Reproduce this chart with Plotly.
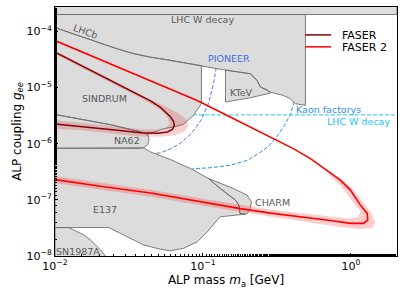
import numpy as np
import plotly.graph_objects as go

# ---------------- axis ranges (GeV, coupling) ----------------
x_range = [0.01, 2.05]
y_range = [1e-8, 2.72e-4]
x_ticks = [0.01, 0.1, 1.0]
x_tick_labels = ["10<sup>−2</sup>", "10<sup>−1</sup>", "10<sup>0</sup>"]
y_ticks = [1e-8, 1e-7, 1e-6, 1e-5, 1e-4]
y_tick_labels = ["10<sup>−8</sup>", "10<sup>−7</sup>", "10<sup>−6</sup>", "10<sup>−5</sup>", "10<sup>−4</sup>"]

# ---------------- excluded regions ----------------
lhcw_top_m = [0.01, 2.05, 2.05, 0.01]
lhcw_top_g = [2.0e-4, 2.0e-4, 1e-3, 1e-3]

lhcb_m = [0.01, 0.0156, 0.0263, 0.0339, 0.0442, 0.0573, 0.0705, 0.0962, 0.1375, 0.209,
          0.232, 0.245, 0.286, 0.350, 0.390, 0.422, 0.493, 0.493, 0.01]
lhcb_g = [1.17e-4, 7.85e-5, 4.89e-5, 4.03e-5, 3.47e-5, 3.12e-5, 2.82e-5, 2.47e-5, 2.07e-5, 1.76e-5,
          1.34e-5, 1.02e-5, 8.28e-6, 7.24e-6, 6.32e-6, 5.15e-6, 4.81e-6, 2.0e-4, 2.0e-4]

sindrum_m = [0.01, 0.0156, 0.0263, 0.0339, 0.0442, 0.0573, 0.0705, 0.0977, 0.0977, 0.0863,
             0.0738, 0.0631, 0.0541, 0.0463, 0.0422, 0.0378, 0.0237, 0.01]
sindrum_g = [1.17e-4, 7.85e-5, 4.89e-5, 4.03e-5, 3.47e-5, 3.12e-5, 2.82e-5, 2.45e-5, 5.22e-6, 3.19e-6,
             2.21e-6, 1.98e-6, 1.85e-6, 1.61e-6, 1.47e-6, 1.63e-6, 2.18e-6, 3.32e-6]

na62_m = [0.01, 0.0237, 0.0378, 0.0422, 0.0429, 0.0432, 0.0419, 0.0397, 0.0378, 0.01]
na62_g = [3.32e-6, 2.18e-6, 1.63e-6, 1.47e-6, 1.30e-6, 1.10e-6, 9.38e-7, 8.45e-7, 8.3e-7, 8.3e-7]

ktev_m = [0.142, 0.142, 0.209, 0.286, 0.270, 0.245, 0.232, 0.209, 0.142]
ktev_g = [2.05e-5, 5.51e-6, 6.59e-6, 7.96e-6, 9.2e-6, 1.02e-5, 1.34e-5, 1.76e-5, 2.05e-5]

e137_m = [0.01, 0.0378, 0.0397, 0.0442, 0.0603, 0.0824, 0.109, 0.131, 0.166, 0.175, 0.178, 0.194,
          0.166, 0.131, 0.125, 0.107, 0.0918, 0.0741, 0.0603, 0.0516, 0.0398, 0.0292, 0.0231, 0.01]
e137_g = [8.3e-7, 8.3e-7, 8.45e-7, 7.13e-7, 5.23e-7, 3.61e-7, 2.40e-7, 1.59e-7, 9.88e-8, 8.05e-8, 5.73e-8, 5.57e-8,
          5.35e-8, 4.99e-8, 4.36e-8, 2.70e-8, 1.80e-8, 1.37e-8, 1.24e-8, 1.32e-8, 1.57e-8, 2.36e-8, 3.21e-8, 3.21e-8]

charm_m = [0.109, 0.161, 0.199, 0.213, 0.209, 0.199, 0.194, 0.178, 0.175, 0.166, 0.131, 0.109]
charm_g = [2.40e-7, 1.59e-7, 1.21e-7, 9.2e-8, 7.03e-8, 5.73e-8, 5.57e-8, 5.73e-8, 8.05e-8, 9.88e-8, 1.59e-7, 2.40e-7]

sn_m = [0.01, 0.0124, 0.0157, 0.0174, 0.0203, 0.0219, 0.0225, 0.01]
sn_g = [3.21e-8, 3.21e-8, 2.36e-8, 1.92e-8, 1.28e-8, 1.0e-8, 5e-9, 5e-9]

# ---------------- future projections (dashed) ----------------
pioneer_m = [0.123, 0.118, 0.109, 0.0977, 0.0889, 0.0824, 0.0705, 0.0603, 0.0516, 0.0463]
pioneer_g = [2.27e-5, 1.18e-5, 5.22e-6, 2.71e-6, 1.88e-6, 1.47e-6, 1.02e-6, 8.1e-7, 6.88e-7, 6.62e-7]

kaon_m = [0.415, 0.390, 0.356, 0.314, 0.277, 0.245, 0.200, 0.153, 0.112, 0.0849]
kaon_g = [5.66e-6, 3.32e-6, 2.12e-6, 1.30e-6, 9.0e-7, 7.03e-7, 5.07e-7, 4.13e-7, 3.73e-7, 3.58e-7]

lhcw_m = [0.01, 2.05]
lhcw_g = [3.26e-6, 3.26e-6]

# ---------------- FASER sensitivity ----------------
faser_m = [0.01, 0.0203, 0.0378, 0.0442, 0.0516, 0.0566, 0.0603, 0.0632, 0.0641, 0.0622, 0.0575,
           0.0493, 0.0378, 0.0264, 0.0203, 0.0156, 0.01]
faser_g = [4.28e-5, 1.66e-5, 7.18e-6, 5.78e-6, 4.44e-6, 3.61e-6, 3.01e-6, 2.50e-6, 2.12e-6, 1.80e-6, 1.62e-6,
           1.53e-6, 1.57e-6, 1.73e-6, 1.85e-6, 1.98e-6, 2.25e-6]

faser_band_m = [0.01, 0.0203, 0.0378, 0.0442, 0.0558, 0.0682, 0.0773, 0.0798, 0.0750, 0.0652, 0.0516,
                0.0378, 0.0264, 0.0203, 0.01486, 0.01,
                0.01, 0.01486, 0.0203, 0.0264, 0.0378, 0.0493, 0.0558, 0.0594, 0.0585, 0.0558, 0.0516,
                0.0442, 0.0378, 0.0203, 0.01]
faser_band_g = [4.56e-5, 1.75e-5, 7.54e-6, 6.15e-6, 4.61e-6, 3.47e-6, 2.71e-6, 2.04e-6, 1.66e-6, 1.41e-6, 1.33e-6,
                1.35e-6, 1.47e-6, 1.59e-6, 1.73e-6, 1.84e-6,
                2.61e-6, 2.35e-6, 2.17e-6, 2.00e-6, 1.80e-6, 1.77e-6, 1.88e-6, 2.21e-6, 2.71e-6, 3.32e-6, 4.00e-6,
                5.22e-6, 6.53e-6, 1.51e-5, 3.95e-5]

faser2_m = [0.01, 0.0203, 0.0442, 0.0914, 0.153, 0.257, 0.408, 0.533, 0.690, 0.849, 0.993, 1.16, 1.29,
            1.30, 1.22, 0.993, 0.727, 0.456, 0.286, 0.179, 0.0962, 0.0442, 0.0203, 0.01]
faser2_g = [6.87e-5, 3.13e-5, 1.36e-5, 5.90e-6, 2.98e-6, 1.51e-6, 8.18e-7, 5.43e-7, 3.37e-7, 2.24e-7, 1.49e-7,
            8.05e-8, 5.73e-8, 4.36e-8, 3.81e-8, 3.81e-8, 4.28e-8, 4.93e-8, 5.81e-8, 6.98e-8, 9.29e-8, 1.32e-7,
            1.75e-7, 2.29e-7]

faser2_band_m = [0.727, 0.849, 1.02, 1.20, 1.36, 1.46, 1.40, 1.16, 0.849, 0.456, 0.286, 0.179, 0.0962,
                 0.0442, 0.0203, 0.01,
                 0.01, 0.0203, 0.0442, 0.0962, 0.179, 0.286, 0.456, 0.727, 0.993, 1.12, 1.16, 1.07, 0.933,
                 0.798, 0.705]
faser2_band_g = [3.10e-7, 2.43e-7, 1.61e-7, 9.1e-8, 6.05e-8, 4.02e-8, 3.14e-8, 3.02e-8, 3.27e-8, 4.19e-8,
                 5.04e-8, 6.05e-8, 8.05e-8, 1.14e-7, 1.52e-7, 1.98e-7,
                 2.64e-7, 2.02e-7, 1.52e-7, 1.07e-7, 8.05e-8, 6.70e-8, 5.81e-8, 5.04e-8, 4.63e-8, 4.93e-8,
                 6.29e-8, 8.05e-8, 1.32e-7, 2.15e-7, 2.86e-7]

# ---------------- labels ----------------
region_labels = ["LHC W decay", "LHCb", "SINDRUM", "KTeV", "NA62", "CHARM", "E137", "SN1987A"]
region_label_m = [0.0993, 0.0161, 0.0216, 0.182, 0.0307, 0.294, 0.0219, 0.0143]
region_label_g = [1.62e-4, 9.9e-5, 6.32e-6, 8.28e-6, 1.15e-6, 9.0e-8, 6.75e-8, 1.19e-8]
region_label_angle = [0, 20, 0, 0, 0, 0, 0, 0]

FONT = "DejaVu Sans"
GRAY_FILL = "#dcdcdc"
GRAY_LINE = "#6e6e6e"

fig = go.Figure()


def dashed(m, g, color, name):
    fig.add_trace(go.Scatter(x=m, y=g, mode="lines", name=name, showlegend=False,
                             line=dict(color=color, width=1, dash="4px,2px"), hoverinfo="skip"))


dashed(lhcw_m, lhcw_g, "#22c4f5", "LHC W decay (future)")
dashed(pioneer_m, pioneer_g, "#4a78e0", "PIONEER")
dashed(kaon_m, kaon_g, "#2f8fec", "Kaon factories")

regions = [
    ("LHC W decay", lhcw_top_m, lhcw_top_g),
    ("LHCb", lhcb_m, lhcb_g),
    ("SINDRUM", sindrum_m, sindrum_g),
    ("NA62", na62_m, na62_g),
    ("KTeV", ktev_m, ktev_g),
    ("E137", e137_m, e137_g),
    ("CHARM", charm_m, charm_g),
    ("SN1987A", sn_m, sn_g),
]
for name, m, g in regions:
    fig.add_trace(go.Scatter(x=m, y=g, mode="lines", fill="toself", fillcolor=GRAY_FILL,
                             line=dict(width=0, color=GRAY_FILL), name=name, showlegend=False,
                             hoverinfo="skip"))
for name, m, g in regions:
    fig.add_trace(go.Scatter(x=list(m) + [m[0]], y=list(g) + [g[0]], mode="lines",
                             line=dict(width=0.9, color=GRAY_LINE), name=name + " edge",
                             showlegend=False, hoverinfo="skip"))

# FASER bands and lines
fig.add_trace(go.Scatter(x=faser_band_m, y=faser_band_g, mode="lines", fill="toself",
                         fillcolor="rgba(215,40,40,0.22)", line=dict(width=0), showlegend=False,
                         hoverinfo="skip"))
fig.add_trace(go.Scatter(x=faser2_band_m, y=faser2_band_g, mode="lines", fill="toself",
                         fillcolor="rgba(255,0,0,0.2)", line=dict(width=0), showlegend=False,
                         hoverinfo="skip"))
fig.add_trace(go.Scatter(x=faser_m, y=faser_g, mode="lines", name="FASER",
                         line=dict(color="#8b0000", width=1.5), showlegend=False))
fig.add_trace(go.Scatter(x=faser2_m, y=faser2_g, mode="lines", name="FASER 2",
                         line=dict(color="#ff0000", width=1.6), showlegend=False))

annotations = []
for t, m, g, a in zip(region_labels, region_label_m, region_label_g, region_label_angle):
    annotations.append(dict(x=np.log10(m), y=np.log10(g), xref="x", yref="y", text=t,
                            showarrow=False, textangle=a,
                            font=dict(family=FONT, size=9.5, color="#595959")))
annotations.append(dict(x=np.log10(0.151), y=np.log10(3.24e-5), xref="x", yref="y", text="PIONEER",
                        showarrow=False, font=dict(family=FONT, size=9.5, color="#4169e1")))
annotations.append(dict(x=np.log10(0.415), y=np.log10(4.04e-6), xref="x", yref="y", text="Kaon factorys",
                        showarrow=False, xanchor="left", font=dict(family=FONT, size=9.5, color="#2f8fec")))
annotations.append(dict(x=np.log10(1.90), y=np.log10(2.53e-6), xref="x", yref="y", text="LHC W decay",
                        showarrow=False, xanchor="right", font=dict(family=FONT, size=9.5, color="#22c4f5")))

# manual legend
legend_names = ["FASER", "FASER 2"]
legend_colors = ["#8b0000", "#ff0000"]
legend_y = [0.888, 0.840]
shapes = []
for n, c, y in zip(legend_names, legend_colors, legend_y):
    shapes.append(dict(type="line", xref="paper", yref="paper", x0=0.731, x1=0.807, y0=y, y1=y,
                       line=dict(color=c, width=1.5)))
    annotations.append(dict(x=0.833, y=y, xref="paper", yref="paper", text=n, showarrow=False,
                            xanchor="left", yanchor="middle", height=12,
                            font=dict(family=FONT, size=11, color="black")))

fig.update_layout(
    width=407, height=291,
    margin=dict(l=55, r=10, t=7, b=35),
    paper_bgcolor="white", plot_bgcolor="white",
    font=dict(family=FONT, size=11, color="black"),
    annotations=annotations, shapes=shapes,
    showlegend=False,
)
fig.update_xaxes(type="log", range=[np.log10(x_range[0]), np.log10(x_range[1])],
                 tickvals=x_ticks, ticktext=x_tick_labels, automargin=False,
                 ticks="inside", ticklen=3.5, tickwidth=0.8, tickcolor="black",
                 minor=dict(ticks="inside", ticklen=2, tickwidth=0.6, tickcolor="black", showgrid=False),
                 showline=True, linecolor="black", linewidth=0.8, mirror=True, showgrid=False,
                 zeroline=False, tickfont=dict(family=FONT, size=11),
                 title=dict(text="ALP mass <i>m</i><sub>a</sub> [GeV]", font=dict(family=FONT, size=12),
                            standoff=2))
fig.update_yaxes(type="log", range=[np.log10(y_range[0]), np.log10(y_range[1])],
                 tickvals=y_ticks, ticktext=y_tick_labels, automargin=False,
                 ticks="inside", ticklen=3.5, tickwidth=0.8, tickcolor="black",
                 minor=dict(ticks="inside", ticklen=2, tickwidth=0.6, tickcolor="black", showgrid=False),
                 showline=True, linecolor="black", linewidth=0.8, mirror=True, showgrid=False,
                 zeroline=False, tickfont=dict(family=FONT, size=11),
                 title=dict(text="ALP coupling <i>g</i><sub><i>ee</i></sub>", font=dict(family=FONT, size=12),
                            standoff=2))

fig.write_html("out.html", config={"displayModeBar": False},
               post_script="document.body.style.margin='0';document.body.style.padding='0';")
